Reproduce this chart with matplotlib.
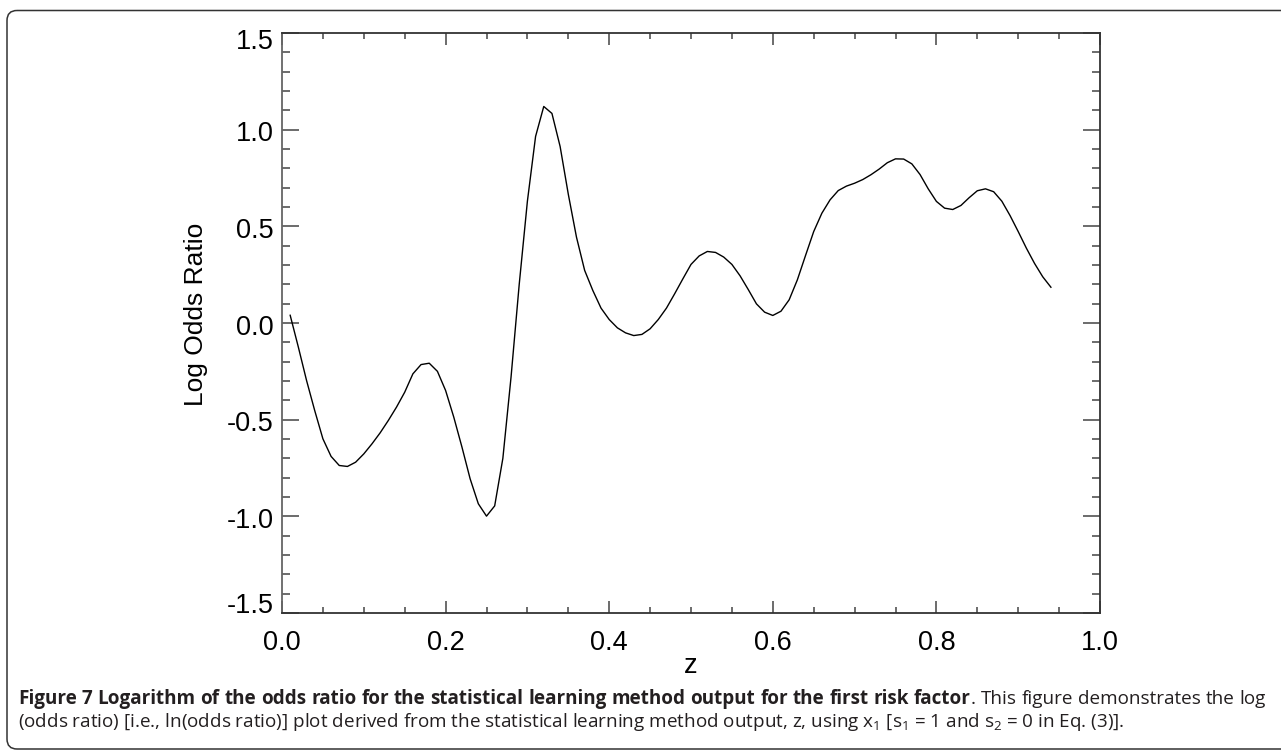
import matplotlib
matplotlib.use('Agg')
import matplotlib.pyplot as plt
import matplotlib.transforms as mtransforms
from matplotlib.patches import FancyBboxPatch
import numpy as np

plt.rcParams['font.family'] = ['Liberation Sans', 'DejaVu Sans']
plt.rcParams['mathtext.fontset'] = 'custom'
plt.rcParams['mathtext.rm'] = 'Open Sans'
plt.rcParams['mathtext.default'] = 'regular'

# z grid of the statistical learning output
z = [0.01, 0.02, 0.03, 0.04, 0.05, 0.06, 0.07, 0.08, 0.09, 0.10,
     0.11, 0.12, 0.13, 0.14, 0.15, 0.16, 0.17, 0.18, 0.19, 0.20,
     0.21, 0.22, 0.23, 0.24, 0.25, 0.26, 0.27, 0.28, 0.29, 0.30,
     0.31, 0.32, 0.33, 0.34, 0.35, 0.36, 0.37, 0.38, 0.39, 0.40,
     0.41, 0.42, 0.43, 0.44, 0.45, 0.46, 0.47, 0.48, 0.49, 0.50,
     0.51, 0.52, 0.53, 0.54, 0.55, 0.56, 0.57, 0.58, 0.59, 0.60,
     0.61, 0.62, 0.63, 0.64, 0.65, 0.66, 0.67, 0.68, 0.69, 0.70,
     0.71, 0.72, 0.73, 0.74, 0.75, 0.76, 0.77, 0.78, 0.79, 0.80,
     0.81, 0.82, 0.83, 0.84, 0.85, 0.86, 0.87, 0.88, 0.89, 0.90,
     0.91, 0.92, 0.93, 0.94]
# log odds ratio
log_or = [0.040, -0.125, -0.297, -0.453, -0.599, -0.690, -0.737, -0.742, -0.720, -0.677,
          -0.625, -0.568, -0.504, -0.435, -0.358, -0.263, -0.215, -0.208, -0.250, -0.349,
          -0.487, -0.642, -0.806, -0.935, -0.999, -0.946, -0.700, -0.280, 0.200, 0.630,
          0.965, 1.120, 1.084, 0.913, 0.666, 0.444, 0.272, 0.168, 0.077, 0.018,
          -0.025, -0.051, -0.065, -0.059, -0.030, 0.018, 0.077, 0.151, 0.228, 0.303,
          0.347, 0.370, 0.365, 0.341, 0.303, 0.244, 0.173, 0.099, 0.056, 0.039,
          0.061, 0.120, 0.223, 0.349, 0.473, 0.568, 0.637, 0.685, 0.708, 0.723,
          0.742, 0.767, 0.796, 0.829, 0.849, 0.848, 0.823, 0.768, 0.694, 0.629,
          0.594, 0.587, 0.608, 0.648, 0.684, 0.694, 0.679, 0.630, 0.556, 0.473,
          0.387, 0.308, 0.239, 0.185]

xticks = [0.0, 0.2, 0.4, 0.6, 0.8, 1.0]
yticks = [-1.5, -1.0, -0.5, 0.0, 0.5, 1.0, 1.5]

cap_bold = 'Figure 7 Logarithm of the odds ratio for the statistical learning method output for the first risk factor'
cap_rest1 = 'This figure demonstrates the log'
cap_line2 = ('(odds ratio) [i.e., ln(odds ratio)] plot derived from the statistical learning method output, z, '
             'using x$_1$ [s$_1$ = 1 and s$_2$ = 0 in Eq. (3)].')

W, H = 1281, 753
fig = plt.figure(figsize=(W / 100, H / 100), dpi=100, facecolor='white')

# frame around the whole figure
bg = fig.add_axes([0, 0, 1, 1], zorder=-1)
bg.set_xlim(0, W)
bg.set_ylim(H, 0)
bg.axis('off')
bg.add_patch(FancyBboxPatch((7, 10.5), 1320, 738.5, boxstyle='round,pad=0,rounding_size=10',
                            fill=False, edgecolor='#333333', linewidth=1.1))

ax = fig.add_axes([282 / W, 1 - 613 / H, 818 / W, 580 / H])
ax.plot(z, log_or, color='black', linewidth=1.0)
ax.set_xlim(0, 1)
ax.set_ylim(-1.5, 1.5)
ax.set_xticks(xticks)
ax.set_xticklabels(['%.1f' % v for v in xticks])
ax.set_yticks(yticks)
ax.set_yticklabels(['%.1f' % v for v in yticks])
ax.set_xticks(np.arange(0, 1.0001, 0.05), minor=True)
ax.set_yticks(np.arange(-1.5, 1.5001, 0.1), minor=True)
ax.tick_params(axis='both', which='both', direction='in', top=True, right=True,
               color='#444444', width=1.1, labelsize=19.5)
ax.tick_params(axis='x', which='major', length=8.5, pad=12)
ax.tick_params(axis='x', which='minor', length=4.3)
ax.tick_params(axis='y', which='major', length=12, pad=6)
ax.tick_params(axis='y', which='minor', length=6)
for s in ax.spines.values():
    s.set_color('#333333')
    s.set_linewidth(1.3)
ax.spines['left'].set_color('#666666')

# end labels sit inside the axis range, as in the original
ylabs = ax.get_yticklabels()
ylabs[0].set_transform(ylabs[0].get_transform() + mtransforms.ScaledTranslation(0, 10 / 100, fig.dpi_scale_trans))
ylabs[-1].set_transform(ylabs[-1].get_transform() + mtransforms.ScaledTranslation(0, -6 / 100, fig.dpi_scale_trans))
for lab in ylabs[1:-1]:
    lab.set_transform(lab.get_transform() + mtransforms.ScaledTranslation(0, -1.5 / 100, fig.dpi_scale_trans))

ax.set_xlabel('z', fontsize=19.5)
ax.xaxis.set_label_coords(0.5, -0.069)
ax.set_ylabel('Log Odds Ratio', fontsize=19)
ax.yaxis.set_label_coords(-0.0905, 0.5155)

# caption line 1 is justified: bold lead, then regular text
fs = 13.6
cap_col = '#231f20'
bold_words = cap_bold.split()
groups = [[(w, 'bold')] for w in bold_words[:-1]]
groups.append([(bold_words[-1], 'bold'), ('.', 'normal')])
groups += [[(w, 'normal')] for w in cap_rest1.split()]

renderer = fig.canvas.get_renderer()
placed = []
total = 0
for g in groups:
    parts = []
    for s, wt in g:
        t = bg.text(0, 704, s, fontsize=fs, fontweight=wt, family='Open Sans',
                    va='baseline', ha='left', color=cap_col)
        w = t.get_window_extent(renderer).width
        parts.append((t, w))
        total += w
    placed.append(parts)
gap = (1266 - 18 - total) / (len(groups) - 1)
x = 18
for parts in placed:
    for t, w in parts:
        t.set_x(x)
        x += w
    x += gap

bg.text(18, 727, cap_line2, fontsize=fs, family='Open Sans', va='baseline', ha='left',
        color=cap_col)

fig.savefig('out.png', dpi=100, facecolor='white')
